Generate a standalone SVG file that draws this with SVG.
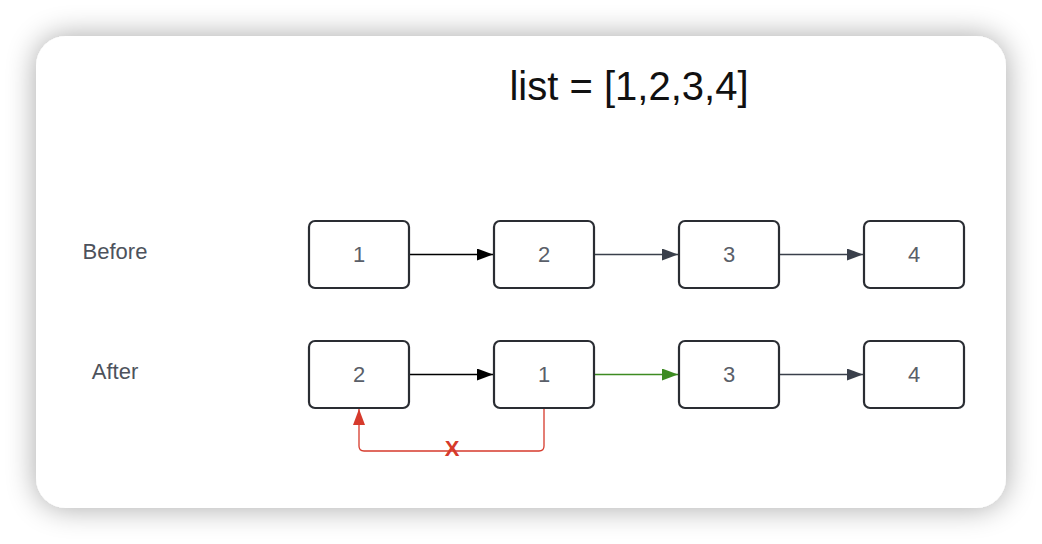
<svg xmlns="http://www.w3.org/2000/svg" width="1042" height="544" viewBox="0 0 1042 544">
<defs>
<filter id="sh" x="-10%" y="-15%" width="120%" height="130%">
<feGaussianBlur in="SourceAlpha" stdDeviation="15"/>
<feOffset dx="0" dy="0"/>
<feComponentTransfer><feFuncA type="linear" slope="0.35"/></feComponentTransfer>
<feMerge><feMergeNode/><feMergeNode in="SourceGraphic"/></feMerge>
</filter>
<marker id="ahBlack" viewBox="0 0 16 12" refX="16" refY="6" markerWidth="16" markerHeight="12" markerUnits="userSpaceOnUse" orient="auto"><path d="M0,0 L16,6 L0,12 Z" fill="#000"/></marker>
<marker id="ahGray" viewBox="0 0 16 12" refX="16" refY="6" markerWidth="16" markerHeight="12" markerUnits="userSpaceOnUse" orient="auto"><path d="M0,0 L16,6 L0,12 Z" fill="#3a404b"/></marker>
<marker id="ahGreen" viewBox="0 0 16 12" refX="16" refY="6" markerWidth="16" markerHeight="12" markerUnits="userSpaceOnUse" orient="auto"><path d="M0,0 L16,6 L0,12 Z" fill="#3d8b22"/></marker>
<marker id="ahRed" viewBox="0 0 16 12" refX="16" refY="6" markerWidth="16" markerHeight="12" markerUnits="userSpaceOnUse" orient="auto"><path d="M0,0 L16,6 L0,12 Z" fill="#d63a2c"/></marker>
</defs>
<style>
.box{fill:#fff;stroke:#2a2d33;stroke-width:2.2}
.num{font-family:"Liberation Sans",Arial,sans-serif;font-size:22px;fill:#5a5f69;text-anchor:middle}
.lbl{font-family:"Liberation Sans",Arial,sans-serif;font-size:22px;fill:#4d525c;text-anchor:middle}
.edge{fill:none;stroke-width:1.3}
</style>
<rect width="1042" height="544" fill="#fff"/>
<rect x="36" y="36" width="970" height="472" rx="30" fill="#fff" filter="url(#sh)"/>
<text x="629" y="100" font-family="'Liberation Sans',Arial,sans-serif" font-size="40" fill="#111" text-anchor="middle">list = [1,2,3,4]</text>
<text class="lbl" x="115" y="259">Before</text>
<text class="lbl" x="115" y="379">After</text>
<g id="connectors">
<line class="edge" x1="410" y1="254.5" x2="493" y2="254.5" stroke="#000" marker-end="url(#ahBlack)"/>
<line class="edge" x1="595" y1="254.5" x2="678" y2="254.5" stroke="#3a404b" marker-end="url(#ahGray)"/>
<line class="edge" x1="780" y1="254.5" x2="863" y2="254.5" stroke="#3a404b" marker-end="url(#ahGray)"/>
<line class="edge" x1="410" y1="374.5" x2="493" y2="374.5" stroke="#000" marker-end="url(#ahBlack)"/>
<line class="edge" x1="595" y1="374.5" x2="678" y2="374.5" stroke="#3d8b22" marker-end="url(#ahGreen)"/>
<line class="edge" x1="780" y1="374.5" x2="863" y2="374.5" stroke="#3a404b" marker-end="url(#ahGray)"/>
<path class="edge" d="M544,409 V446 Q544,451 539,451 H364 Q359,451 359,446 V409" stroke="#d63a2c" marker-end="url(#ahRed)"/>
<text x="452" y="456" font-family="'Liberation Sans',Arial,sans-serif" font-size="22" font-weight="bold" fill="#d63a2c" text-anchor="middle">X</text>
</g>
<g id="b1"><rect class="box" x="309" y="221" width="100" height="67" rx="6"/><text class="num" x="359" y="262">1</text></g>
<g id="b2"><rect class="box" x="494" y="221" width="100" height="67" rx="6"/><text class="num" x="544" y="262">2</text></g>
<g id="b3"><rect class="box" x="679" y="221" width="100" height="67" rx="6"/><text class="num" x="729" y="262">3</text></g>
<g id="b4"><rect class="box" x="864" y="221" width="100" height="67" rx="6"/><text class="num" x="914" y="262">4</text></g>
<g id="a2"><rect class="box" x="309" y="341" width="100" height="67" rx="6"/><text class="num" x="359" y="382">2</text></g>
<g id="a1"><rect class="box" x="494" y="341" width="100" height="67" rx="6"/><text class="num" x="544" y="382">1</text></g>
<g id="a3"><rect class="box" x="679" y="341" width="100" height="67" rx="6"/><text class="num" x="729" y="382">3</text></g>
<g id="a4"><rect class="box" x="864" y="341" width="100" height="67" rx="6"/><text class="num" x="914" y="382">4</text></g>
</svg>
